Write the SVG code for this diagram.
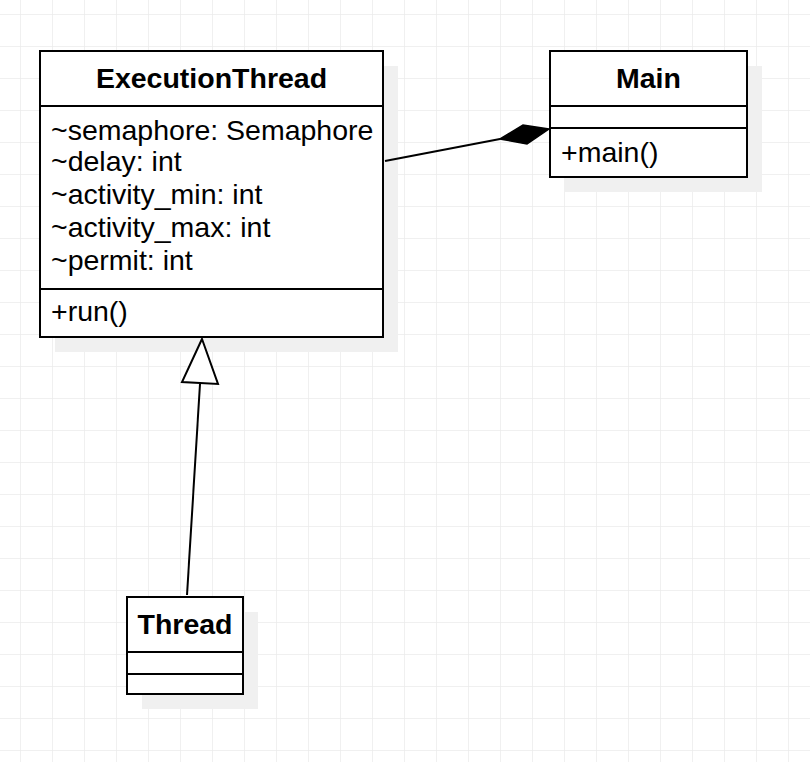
<svg xmlns="http://www.w3.org/2000/svg" width="810" height="762" viewBox="0 0 810 762">
<defs>
<pattern id="grid" x="20" y="14" width="32" height="32" patternUnits="userSpaceOnUse">
<path d="M0 0 H32 M0 0 V32" fill="none" stroke="#ebebeb" stroke-width="1.5"/>
</pattern>
<style>
.box{fill:#fff;stroke:#000;stroke-width:2}
.sh{fill:#f0f0f0}
.div{stroke:#000;stroke-width:2}
.t{font-family:"Liberation Sans",Arial,sans-serif;font-size:28.5px;fill:#000}
.b{font-weight:bold;text-anchor:middle}
.edge{stroke:#000;stroke-width:2;fill:none}
</style>
</defs>
<rect width="810" height="762" fill="#fff"/>
<rect width="810" height="762" fill="url(#grid)"/>
<g id="ExecutionThread">
<rect class="sh" x="55" y="66" width="343" height="286"/>
<rect class="box" x="40" y="51" width="343" height="286"/>
<line class="div" x1="40" y1="106" x2="383" y2="106"/>
<line class="div" x1="40" y1="289" x2="383" y2="289"/>
<text class="t b" x="211.5" y="88">ExecutionThread</text>
<text class="t" x="51" y="140">~semaphore: Semaphore</text>
<text class="t" x="51" y="171">~delay: int</text>
<text class="t" x="51" y="204">~activity_min: int</text>
<text class="t" x="51" y="237">~activity_max: int</text>
<text class="t" x="51" y="270">~permit: int</text>
<text class="t" x="51" y="321">+run()</text>
</g>
<g id="Main">
<rect class="sh" x="565" y="66" width="197" height="126"/>
<rect class="box" x="550" y="51" width="197" height="126"/>
<line class="div" x1="550" y1="106" x2="747" y2="106"/>
<line class="div" x1="550" y1="128" x2="747" y2="128"/>
<text class="t b" x="648.5" y="88">Main</text>
<text class="t" x="561" y="162">+main()</text>
</g>
<g id="Thread">
<rect class="sh" x="142" y="612" width="116" height="97"/>
<rect class="box" x="127" y="597" width="116" height="97"/>
<line class="div" x1="127" y1="652" x2="243" y2="652"/>
<line class="div" x1="127" y1="674" x2="243" y2="674"/>
<text class="t b" x="185" y="634">Thread</text>
</g>
<g id="connectors">
<line class="edge" x1="385" y1="161" x2="500" y2="139"/>
<polygon points="500,139 523,125 549,129 527,144" fill="#000" stroke="#000" stroke-width="1.5"/>
<line class="edge" x1="187" y1="595" x2="200" y2="384"/>
<polygon points="202,339 218,384 182,382" fill="#fff" stroke="#000" stroke-width="2"/>
</g>
</svg>
